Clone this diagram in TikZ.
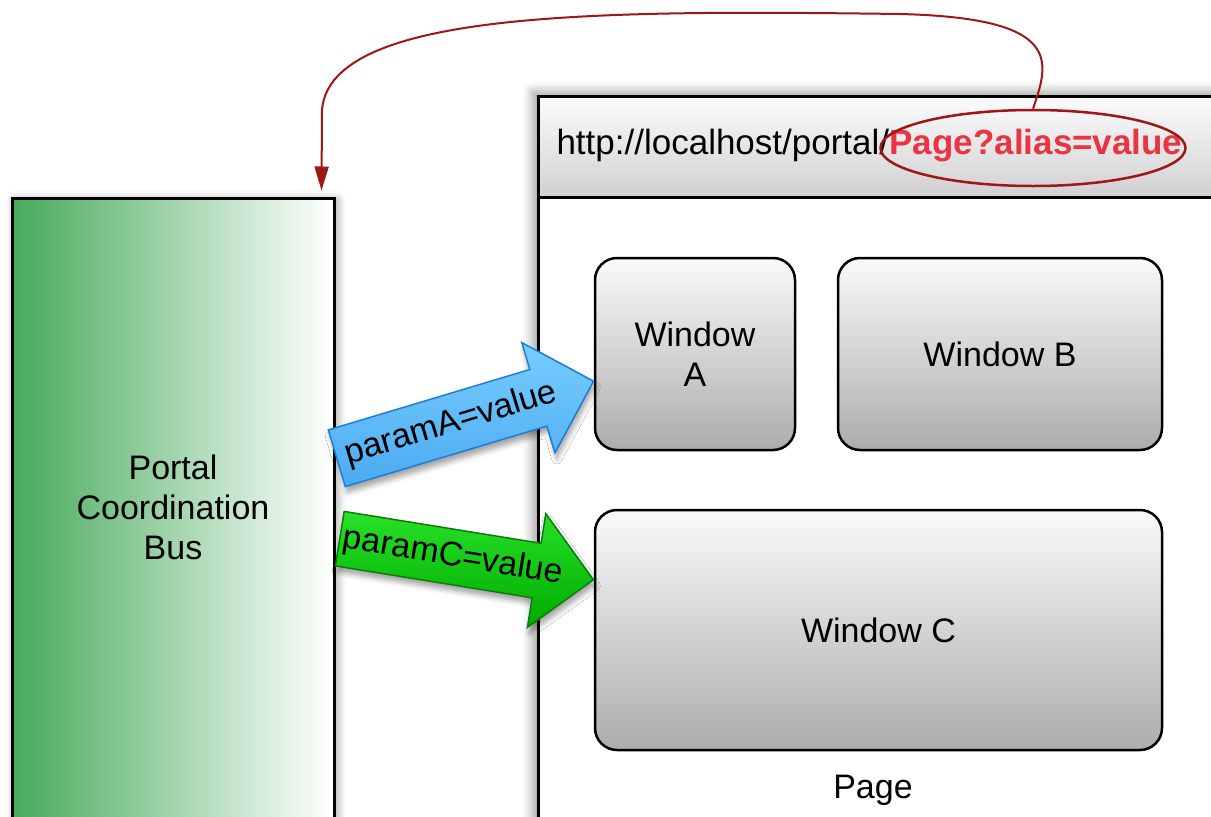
\documentclass[tikz,border=0pt]{standalone}
\usepackage{fontspec}
\setmainfont{Liberation Sans}
\usetikzlibrary{shapes.geometric,shapes.arrows,shadows.blur,arrows.meta,calc}

\definecolor{busgreen}{RGB}{70,170,90}
\definecolor{wintop}{RGB}{250,250,250}
\definecolor{winbot}{RGB}{172,172,172}
\definecolor{headtop}{RGB}{252,252,252}
\definecolor{headbot}{RGB}{208,208,208}
\definecolor{linkred}{RGB}{158,22,22}
\definecolor{aliasred}{RGB}{232,52,68}
\definecolor{bluetop}{RGB}{120,205,255}
\definecolor{bluebot}{RGB}{75,170,240}
\definecolor{blueline}{RGB}{30,125,215}
\definecolor{greentop}{RGB}{40,225,40}
\definecolor{greenbot}{RGB}{0,170,0}
\definecolor{greenline}{RGB}{10,125,10}

\begin{document}
\begin{tikzpicture}[x=1pt,y=-1pt,
  every node/.style={font=\fontsize{34}{40}\selectfont},
  bus/.style={draw=black, line width=3pt, left color=busgreen, right color=white,
    minimum width=322pt, minimum height=662pt, inner sep=0pt,
    blur shadow={shadow xshift=3pt, shadow yshift=-2pt, shadow blur radius=9pt, shadow opacity=40}},
  pagebox/.style={draw=black, line width=3pt, fill=white,
    minimum width=700pt, minimum height=760pt, inner sep=0pt,
    blur shadow={shadow xshift=-6pt, shadow yshift=5pt, shadow blur radius=9pt, shadow opacity=35}},
  header/.style={draw=black, line width=3pt, top color=headtop, bottom color=headbot,
    minimum width=700pt, minimum height=101pt, inner sep=0pt},
  urltext/.style={inner sep=0pt, font=\fontsize{35}{40}\selectfont},
  win/.style={draw=black, line width=2.5pt, rounded corners=22pt,
    top color=wintop, bottom color=winbot, align=center, inner sep=0pt},
  param/.style={single arrow, single arrow tip angle=90, inner xsep=0pt,
    line width=1.5pt, minimum height=#1,
    blur shadow={shadow xshift=2pt, shadow yshift=-6pt, shadow blur radius=5pt, shadow opacity=35}},
  link/.style={draw=linkred, line width=2pt, -{Triangle[length=24pt,width=14pt]}}
]
\useasboundingbox (0,0) rectangle (1211,817);
\clip (0,0) rectangle (1211,817);

% coordination bus on the left
\node[bus] (bus) at (173,529) {};
\node[align=center] (bustext) at (173,507) {Portal\\Coordination\\Bus};

% page frame with its address bar
\node[pagebox] (page) at (888,476) {};
\node[header] (addr) at (888,146.5) {};

% address text, the alias part in red and circled
\node[urltext, text=aliasred, font=\fontsize{35}{40}\selectfont\bfseries]
      (aliastext) at (1036,146) {Page?alias=value};
\node[urltext, anchor=base east] (url) at (aliastext.base west) {http://localhost/portal/};
\node[ellipse, draw=linkred, line width=2.5pt, minimum width=305pt, minimum height=76pt,
      inner sep=0pt] (alias) at (1033,148) {};

% windows on the page
\node[win, minimum width=200pt, minimum height=192pt] (wa) at (695,354) {Window\\A};
\node[win, minimum width=324pt, minimum height=192pt] (wb) at (1000,354) {Window B};
\node[win, minimum width=567pt, minimum height=240pt] (wc) at (878.5,630) {Window C};
\node (pagelabel) at (873,790) {Page};

% parameters passed from the bus to the windows
\node[param=268pt, rotate=16.7, inner ysep=13pt, single arrow head extend=28pt,
      draw=blueline, top color=bluetop, bottom color=bluebot]
      (pa) at (451,424) {paramA=value};
\node[param=257pt, rotate=-9.2, inner ysep=11pt, single arrow head extend=30pt,
      draw=greenline, top color=greentop, bottom color=greenbot]
      (pc) at (453,557) {paramC=value};

% alias in the address routed back to the bus
\coordinate (busin) at ($(bus.north east)+(-14,-6)$);
\draw[link] (alias.north) .. controls (1050,60) and (1062,18) .. (900,14)
  .. controls (600,10) and (330,10) .. (322,110) -- (busin);
\end{tikzpicture}
\end{document}
